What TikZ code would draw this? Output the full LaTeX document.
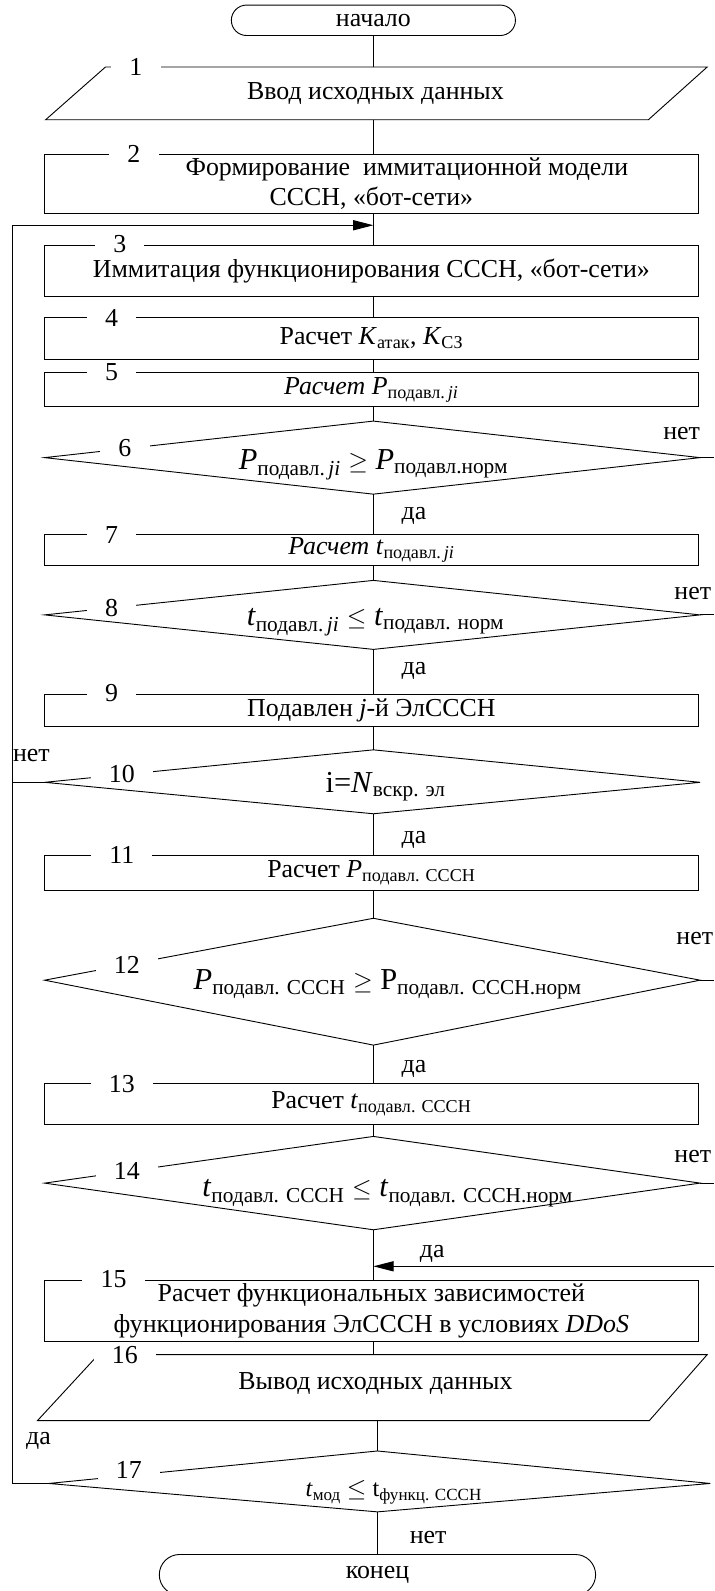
\documentclass[tikz,border=0pt]{standalone}
\usepackage{fontspec}
\setmainfont{Liberation Serif}
\usetikzlibrary{arrows.meta}
\begin{document}
\begin{tikzpicture}[x=1pt,y=-1pt,
  every node/.style={font=\fontsize{25.5}{30.5}\selectfont, inner sep=0pt},
  ln/.style={line width=0.9pt},
  box/.style={draw, ln, rectangle, minimum width=644pt, align=center},
  shp/.style={draw, ln, line join=miter},
  lbl/.style={fill=white, inner xsep=18pt, inner ysep=0pt},
  arr/.style={ln, -{Triangle[length=20pt,width=10pt]}},
  big/.style={font=\fontsize{30}{34}\selectfont},
  small/.style={font=\fontsize{24}{28}\selectfont},
  term/.style={draw, ln, rectangle, align=center}
]
\useasboundingbox (0,0) rectangle (704,1568);
\coordinate (axis) at (368,0);
\coordinate (axisb) at (372,0);

% start
\node[term, minimum width=280pt, minimum height=30pt, rounded corners=15pt] (t1) at (368,20) {начало};

% 1 parallelogram
\coordinate (p1tl) at (104,66); \coordinate (p1tr) at (697,66);
\coordinate (p1br) at (639,118); \coordinate (p1bl) at (45,118);
\coordinate (p1t) at (368,66); \coordinate (p1b) at (368,118);
\draw[shp] (p1tl) -- (p1tr) -- (p1br) -- (p1bl) -- cycle;
\node (p1) at (370,92) {Ввод исходных данных};

% boxes
\node[box, minimum height=58pt] (b2) at (366,181) {\hspace*{70pt}Формирование\ \ иммитационной модели\\СССН, «бот-сети»};
\node[box, minimum height=50pt] (b3) at (366,267) {Иммитация функционирования СССН, «бот-сети»};
\node[box, minimum height=41pt] (b4) at (366,333.5) {Расчет \textit{K}\textsubscript{атак}, \textit{K}\textsubscript{СЗ}};
\node[box, minimum height=34pt] (b5) at (366,384) {\textit{Расчет P}\textsubscript{подавл.\,\textit{ji}}};

% diamond 6
\coordinate (d6t) at (368,415); \coordinate (d6r) at (690,451);
\coordinate (d6b) at (368,487); \coordinate (d6l) at (44,451);
\draw[shp] (d6t) -- (d6r) -- (d6b) -- (d6l) -- cycle;
\node[big] (d6) at (368,458) {\textit{P}\textsubscript{подавл.\,\textit{ji}} $\geq$ \textit{P}\textsubscript{подавл.норм}};

\node[box, minimum height=30pt] (b7) at (366,542) {\textit{Расчет t}\textsubscript{подавл.\,\textit{ji}}};

% diamond 8
\coordinate (d8t) at (368,572); \coordinate (d8r) at (690,606);
\coordinate (d8b) at (368,640); \coordinate (d8l) at (44,606);
\draw[shp] (d8t) -- (d8r) -- (d8b) -- (d8l) -- cycle;
\node[big] (d8) at (370,613) {\textit{t}\textsubscript{подавл.\,\textit{ji}} $\leq$ \textit{t}\textsubscript{подавл. норм}};

\node[box, minimum height=32pt] (b9) at (366,700) {Подавлен \textit{j}-й ЭлСССН};

% diamond 10
\coordinate (d10t) at (368,739); \coordinate (d10r) at (690,771);
\coordinate (d10b) at (368,802); \coordinate (d10l) at (44,771);
\draw[shp] (d10t) -- (d10r) -- (d10b) -- (d10l) -- cycle;
\node[big] (d10) at (380,775) {i=\textit{N}\textsubscript{вскр. эл}};

\node[box, minimum height=35pt] (b11) at (366,860.5) {Расчет \textit{P}\textsubscript{подавл. СССН}};

% diamond 12
\coordinate (d12t) at (368,905); \coordinate (d12r) at (690,966);
\coordinate (d12b) at (368,1030); \coordinate (d12l) at (44,966);
\draw[shp] (d12t) -- (d12r) -- (d12b) -- (d12l) -- cycle;
\node[big] (d12) at (382,970) {\textit{P}\textsubscript{подавл. СССН} $\geq$ P\textsubscript{подавл. СССН.норм}};

\node[box, minimum height=40pt] (b13) at (366,1088) {Расчет \textit{t}\textsubscript{подавл. СССН}};

% diamond 14
\coordinate (d14t) at (368,1120); \coordinate (d14r) at (690,1166);
\coordinate (d14b) at (368,1212); \coordinate (d14l) at (44,1166);
\draw[shp] (d14t) -- (d14r) -- (d14b) -- (d14l) -- cycle;
\node[big] (d14) at (382,1176) {\textit{t}\textsubscript{подавл. СССН} $\leq$ \textit{t}\textsubscript{подавл. СССН.норм}};

\node[box, minimum height=60pt] (b15) at (366,1292) {Расчет функциональных зависимостей\\функционирования ЭлСССН в условиях \textit{DDoS}};

% 16 parallelogram
\coordinate (p16tl) at (97,1335); \coordinate (p16tr) at (697,1335);
\coordinate (p16br) at (640,1400); \coordinate (p16bl) at (37,1400);
\coordinate (p16t) at (368,1335); \coordinate (p16b) at (372,1400);
\draw[shp] (p16tl) -- (p16tr) -- (p16br) -- (p16bl) -- cycle;
\node (p16) at (370,1364) {Вывод исходных данных};

% diamond 17
\coordinate (d17t) at (372,1430); \coordinate (d17r) at (700,1462);
\coordinate (d17b) at (372,1490); \coordinate (d17l) at (48,1462);
\draw[shp] (d17t) -- (d17r) -- (d17b) -- (d17l) -- cycle;
\node[small] (d17) at (388,1471) {\textit{t}\textsubscript{мод} $\leq$ t\textsubscript{функц. СССН}};

% end
\node[term, minimum width=430pt, minimum height=40pt, rounded corners=20pt] (t2) at (372,1552) {\raisebox{4pt}{конец}};

% vertical connectors
\draw[ln] (t1.south -| axis) -- (p1t);
\draw[ln] (p1b) -- (b2.north -| axis);
\draw[ln] (b2.south -| axis) -- (b3.north -| axis);
\draw[ln] (b3.south -| axis) -- (b4.north -| axis);
\draw[ln] (b4.south -| axis) -- (b5.north -| axis);
\draw[ln] (b5.south -| axis) -- (d6t);
\draw[ln] (d6b) -- (b7.north -| axis);
\draw[ln] (b7.south -| axis) -- (d8t);
\draw[ln] (d8b) -- (b9.north -| axis);
\draw[ln] (b9.south -| axis) -- (d10t);
\draw[ln] (d10b) -- (b11.north -| axis);
\draw[ln] (b11.south -| axis) -- (d12t);
\draw[ln] (d12b) -- (b13.north -| axis);
\draw[ln] (b13.south -| axis) -- (d14t);
\draw[ln] (d14b) -- (b15.north -| axis);
\draw[ln] (b15.south -| axis) -- (p16t);
\draw[ln] (p16b) -- (d17t);
\draw[ln] (d17b) -- (t2.north -| axisb);

% loop back on the left
\coordinate (loop) at (12,222);
\coordinate (join) at (368,222);
\draw[arr] (d17l) -| (loop) -- (join);
\draw[ln] (d10l) -- (d10l -| loop);

% "no" exits on the right
\coordinate (r6) at (704,451);
\coordinate (r8) at (704,606);
\coordinate (r12) at (704,966);
\coordinate (r14) at (704,1166);
\coordinate (r15) at (704,1248);
\coordinate (j15) at (368,1248);
\draw[ln] (d6r) -- (r6);
\draw[ln] (d8r) -- (r8);
\draw[ln] (d12r) -- (r12);
\draw[ln] (d14r) -- (r14);
\draw[arr] (r15) -- (j15);

% number labels
\node[lbl] (n1) at (134,66) {1};
\node[lbl] (n2) at (132,152) {2};
\node[lbl] (n3) at (118,241) {3};
\node[lbl] (n4) at (110,313) {4};
\node[lbl] (n5) at (110,367) {5};
\node[lbl] (n6) at (123,442) {6};
\node[lbl] (n7) at (110,527) {7};
\node[lbl] (n8) at (110,599) {8};
\node[lbl] (n9) at (110,683) {9};
\node[lbl] (n10) at (120,763) {10};
\node[lbl] (n11) at (120,843) {11};
\node[lbl] (n12) at (125,951) {12};
\node[lbl] (n13) at (120,1068) {13};
\node[lbl] (n14) at (125,1154) {14};
\node[lbl] (n15) at (112,1261) {15};
\node[lbl] (n16) at (123,1335) {16};
\node[lbl] (n17) at (127,1449) {17};

% yes / no labels
\node (y6) at (408,508) {да};
\node (y8) at (408,661) {да};
\node (y10) at (408,828) {да};
\node (y12) at (408,1053) {да};
\node (y14) at (426,1236) {да};
\node (y17) at (38,1420) {да};
\node[anchor=east] (no6) at (690,427) {нет};
\node[anchor=east] (no8) at (701,585) {нет};
\node (no10) at (31,745) {нет};
\node[anchor=east] (no12) at (703,925) {нет};
\node[anchor=east] (no14) at (701,1140) {нет};
\node (no17) at (422,1515) {нет};
\end{tikzpicture}
\end{document}
